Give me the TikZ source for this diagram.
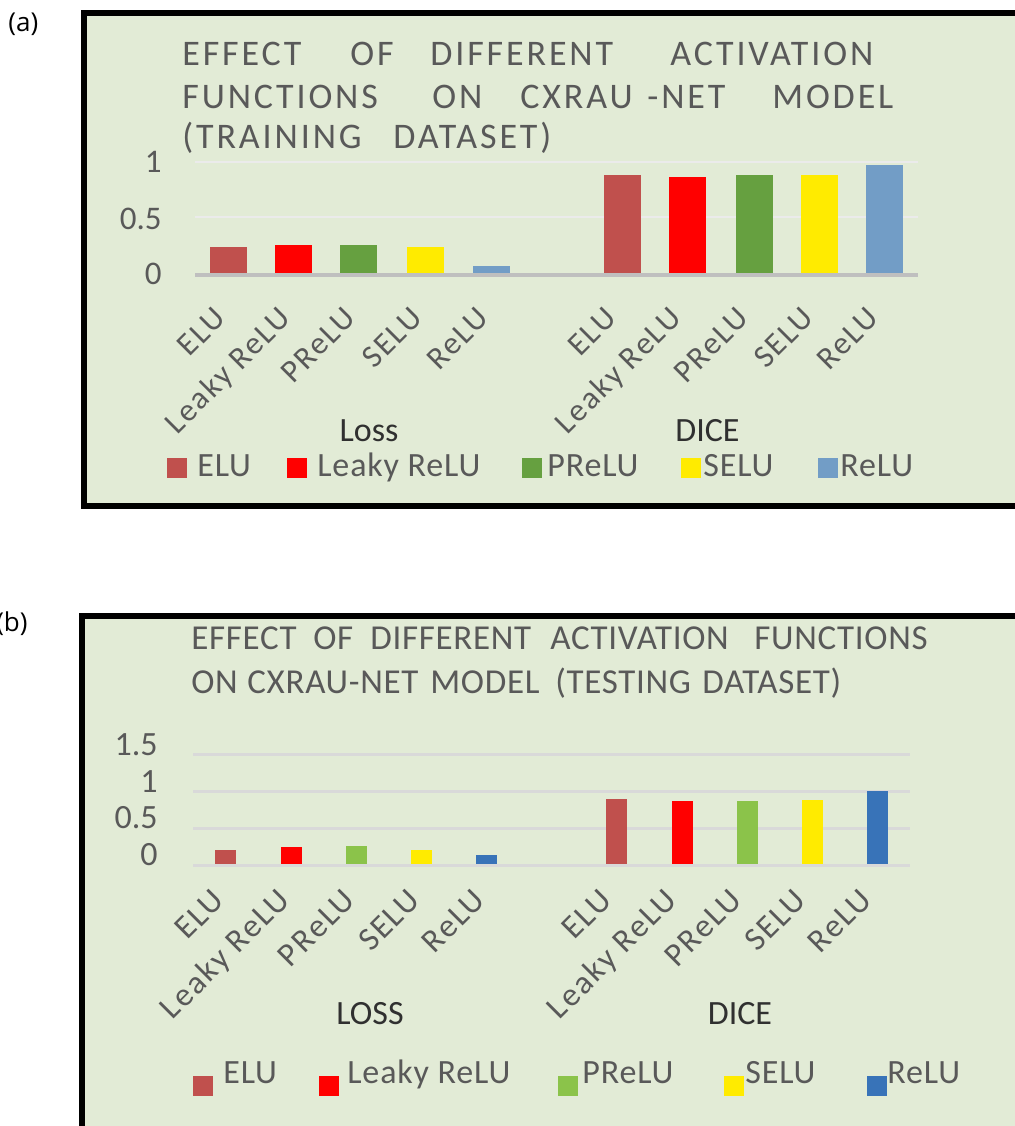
\documentclass[tikz,border=0pt]{standalone}
\usepackage{fontspec}
\setmainfont{Carlito}
\newfontfamily\titlefa[LetterSpace=8]{Carlito}
\newfontfamily\titlefb[LetterSpace=2]{Carlito}
\newfontfamily\catfont[LetterSpace=6]{Carlito}
\newfontfamily\legfont[LetterSpace=2.5]{Carlito}
\newfontfamily\panelfont{Open Sans}
\definecolor{bg}{HTML}{E2EBD6}
\definecolor{txt}{HTML}{595959}
\definecolor{dark}{HTML}{303030}
\definecolor{gridA}{HTML}{EBEBEB}
\definecolor{axisA}{HTML}{BFBFBF}
\definecolor{gridB}{HTML}{D9D9D9}
\definecolor{cELU}{HTML}{C0504D}
\definecolor{cLeaky}{HTML}{FF0000}
\definecolor{cPReLUa}{HTML}{66A040}
\definecolor{cSELU}{HTML}{FFEB00}
\definecolor{cReLUa}{HTML}{729DC6}
\definecolor{cPReLUb}{HTML}{8BC34A}
\definecolor{cReLUb}{HTML}{3873B8}
\begin{document}
\begin{tikzpicture}[x=0.5pt,y=-0.5pt,
  frame/.style={line width=3pt, draw=black, fill=bg},
  titleA/.style={anchor=base west, inner sep=0, text=txt, font=\titlefa\fontsize{18pt}{18pt}\selectfont},
  titleB/.style={anchor=base west, inner sep=0, text=txt, font=\titlefb\fontsize{17.5pt}{17.5pt}\selectfont},
  ylab/.style={anchor=base east, inner sep=0, text=txt, font=\fontsize{16.5pt}{16.5pt}\selectfont},
  catlab/.style={anchor=base east, inner sep=0, rotate=45, text=txt, font=\catfont\fontsize{16pt}{16pt}\selectfont},
  grouplab/.style={anchor=base, inner sep=0, text=dark, font=\fontsize{17pt}{17pt}\selectfont},
  leglab/.style={anchor=base west, inner sep=0, text=txt, font=\legfont\fontsize{17pt}{17pt}\selectfont},
  panellab/.style={inner sep=0, text=black, font=\panelfont\fontsize{13pt}{13pt}\selectfont}
]
\useasboundingbox (0,0) rectangle (1014,1126);
\fill[white] (0,0) rectangle (1014,1126);

% ================= panel (a) =================
\node[panellab, anchor=base west] (pa) at (8,31) {(a)};
\draw[frame] (84,13) rectangle (1040,506);

\node[titleA] (ta1) at (182,65) {EFFECT};
\node[titleA] (ta2) at (350,65) {OF};
\node[titleA] (ta3) at (430,65) {DIFFERENT};
\node[titleA] (ta4) at (670,65) {ACTIVATION};
\node[titleA] (ta5) at (182,108) {FUNCTIONS};
\node[titleA] (ta6) at (432,108) {ON};
\node[titleA] (ta7) at (520,108) {CXRAU};
\node[titleA] (ta8) at (647,108) {-NET};
\node[titleA] (ta9) at (772,108) {MODEL};
\node[titleA] (ta10) at (182,148) {(TRAINING};
\node[titleA] (ta11) at (393,148) {DATASET)};

% grid
\draw[gridA, line width=1.25pt] (195,162) -- (918,162);
\draw[gridA, line width=1.25pt] (195,217) -- (918,217);
\node[ylab] (ya1) at (162,172) {1};
\node[ylab] (ya2) at (162,229) {0.5};
\node[ylab] (ya3) at (162,284) {0};

% bars (a)
\foreach \c/\t/\col [count=\i] in {228.5/247/cELU, 293.5/245/cLeaky, 358.5/245/cPReLUa, 425/247/cSELU, 491.5/266/cReLUa,
    622/175/cELU, 687/177/cLeaky, 754.5/175/cPReLUa, 819.5/175/cSELU, 884.5/165/cReLUa}
  \fill[\col] (\c-18.5,\t) rectangle (\c+18.5,274);
\draw[axisA, line width=2pt] (195,275) -- (918,275);

% category labels (a)
\foreach \c/\lab [count=\i] in {227.5/ELU, 292.5/Leaky ReLU, 357.5/PReLU, 424/SELU, 490.5/ReLU}
  \node[catlab] (cla\i) at (\c,320) {\lab};
\foreach \c/\lab [count=\i] in {618/ELU, 683/Leaky ReLU, 750.5/PReLU, 815.5/SELU, 880.5/ReLU}
  \node[catlab] (cda\i) at (\c,320) {\lab};
\node[grouplab] (ga1) at (369,441) {Loss};
\node[grouplab] (ga2) at (707.5,441) {DICE};

% legend (a)
\foreach \sx/\tx/\col/\lab [count=\i] in {167/197/cELU/ELU, 287/317/cLeaky/Leaky ReLU, 522/547/cPReLUa/PReLU, 681/703/cSELU/SELU, 818/840/cReLUa/ReLU}{
  \fill[\col] (\sx,458) rectangle (\sx+20,478);
  \node[leglab] (lega\i) at (\tx,476) {\lab};
}

% ================= panel (b) =================
\node[panellab, anchor=base east] (pb) at (28,631) {(b)};
\draw[frame] (82,616) rectangle (1040,1150);

\node[titleB] (tb1) at (191,649) {EFFECT};
\node[titleB] (tb2) at (313,649) {OF};
\node[titleB] (tb3) at (370,649) {DIFFERENT};
\node[titleB] (tb4) at (550,649) {ACTIVATION};
\node[titleB] (tb5) at (754,649) {FUNCTIONS};
\node[titleB] (tb6) at (191,693) {ON};
\node[titleB] (tb7) at (247,693) {CXRAU-NET};
\node[titleB] (tb8) at (430,693) {MODEL};
\node[titleB] (tb9) at (555,693) {(TESTING};
\node[titleB] (tb10) at (702,693) {DATASET)};

\foreach \y in {754,791,828}
  \draw[gridB, line width=1.5pt] (193,\y) -- (910,\y);
\node[ylab, font=\fontsize{17pt}{17pt}\selectfont] (yb1) at (158,755) {1.5};
\node[ylab, font=\fontsize{17pt}{17pt}\selectfont] (yb2) at (158,792) {1};
\node[ylab, font=\fontsize{17pt}{17pt}\selectfont] (yb3) at (158,828) {0.5};
\node[ylab, font=\fontsize{17pt}{17pt}\selectfont] (yb4) at (158,865) {0};

\foreach \c/\t/\col [count=\i] in {225.5/850/cELU, 291/847/cLeaky, 356.5/846/cPReLUb, 421.5/850/cSELU, 486.5/855/cReLUb,
    616.5/799/cELU, 682.5/801/cLeaky, 747.5/801/cPReLUb, 812/800/cSELU, 877.5/791/cReLUb}
  \fill[\col] (\c-10.5,\t) rectangle (\c+10.5,864);
\draw[gridB, line width=1.5pt] (193,865) -- (910,865);

\foreach \c/\lab [count=\i] in {226/ELU, 291.5/Leaky ReLU, 357/PReLU, 422/SELU, 487/ReLU}
  \node[catlab, font=\catfont\fontsize{16.5pt}{16.5pt}\selectfont] (clb\i) at (\c,902) {\lab};
\foreach \c/\lab [count=\i] in {613.5/ELU, 678.5/Leaky ReLU, 743.5/PReLU, 808/SELU, 873.5/ReLU}
  \node[catlab, font=\catfont\fontsize{16.5pt}{16.5pt}\selectfont] (cdb\i) at (\c,902) {\lab};
\node[grouplab] (gb1) at (370,1024) {LOSS};
\node[grouplab] (gb2) at (740,1024) {DICE};

\foreach \sx/\tx/\col/\lab [count=\i] in {193/223/cELU/ELU, 319/347/cLeaky/Leaky ReLU, 558/582/cPReLUb/PReLU, 724/745/cSELU/SELU, 867/887/cReLUb/ReLU}{
  \fill[\col] (\sx,1076) rectangle (\sx+20,1096);
  \node[leglab] (legb\i) at (\tx,1083) {\lab};
}
\end{tikzpicture}
\end{document}
